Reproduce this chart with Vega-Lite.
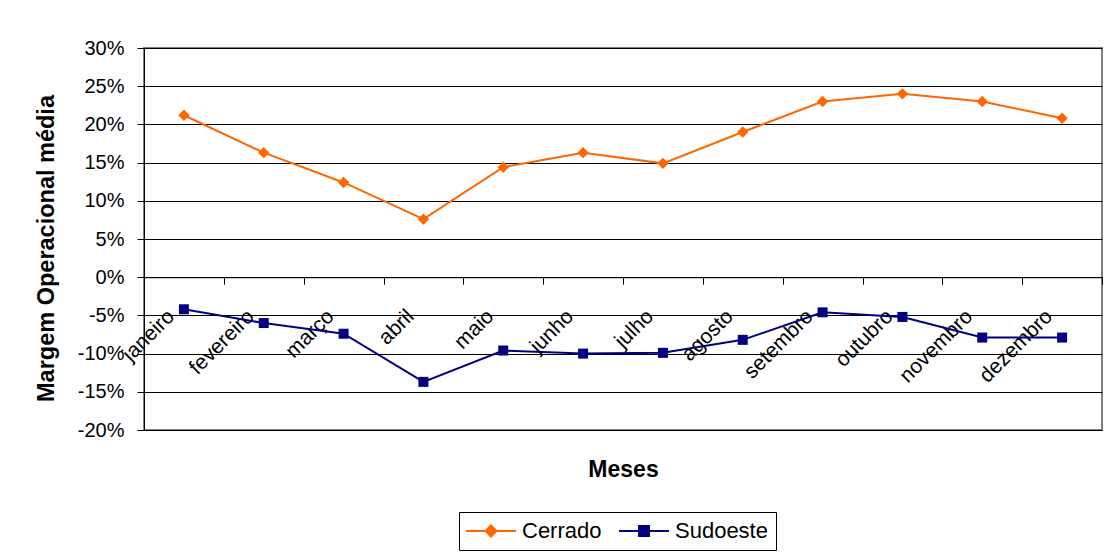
{
  "$schema": "https://vega.github.io/schema/vega-lite/v6.json",
  "width": 958,
  "height": 382,
  "autosize": "none",
  "padding": {"left": 144, "top": 48, "right": 6, "bottom": 125},
  "background": "white",
  "config": {
    "font": "Liberation Sans",
    "view": {"stroke": "#808080", "strokeWidth": 2}
  },
  "data": {
    "values": [
      {"mes": "janeiro", "serie": "Cerrado", "valor": 0.212},
      {"mes": "fevereiro", "serie": "Cerrado", "valor": 0.163},
      {"mes": "março", "serie": "Cerrado", "valor": 0.124},
      {"mes": "abril", "serie": "Cerrado", "valor": 0.076},
      {"mes": "maio", "serie": "Cerrado", "valor": 0.144},
      {"mes": "junho", "serie": "Cerrado", "valor": 0.163},
      {"mes": "julho", "serie": "Cerrado", "valor": 0.149},
      {"mes": "agosto", "serie": "Cerrado", "valor": 0.190},
      {"mes": "setembro", "serie": "Cerrado", "valor": 0.230},
      {"mes": "outubro", "serie": "Cerrado", "valor": 0.240},
      {"mes": "novembro", "serie": "Cerrado", "valor": 0.230},
      {"mes": "dezembro", "serie": "Cerrado", "valor": 0.208},
      {"mes": "janeiro", "serie": "Sudoeste", "valor": -0.042},
      {"mes": "fevereiro", "serie": "Sudoeste", "valor": -0.060},
      {"mes": "março", "serie": "Sudoeste", "valor": -0.074},
      {"mes": "abril", "serie": "Sudoeste", "valor": -0.137},
      {"mes": "maio", "serie": "Sudoeste", "valor": -0.096},
      {"mes": "junho", "serie": "Sudoeste", "valor": -0.100},
      {"mes": "julho", "serie": "Sudoeste", "valor": -0.099},
      {"mes": "agosto", "serie": "Sudoeste", "valor": -0.082},
      {"mes": "setembro", "serie": "Sudoeste", "valor": -0.046},
      {"mes": "outubro", "serie": "Sudoeste", "valor": -0.052},
      {"mes": "novembro", "serie": "Sudoeste", "valor": -0.079},
      {"mes": "dezembro", "serie": "Sudoeste", "valor": -0.079}
    ]
  },
  "encoding": {
    "x": {
      "field": "mes",
      "type": "ordinal",
      "sort": ["janeiro", "fevereiro", "março", "abril", "maio", "junho", "julho", "agosto", "setembro", "outubro", "novembro", "dezembro"],
      "bandPosition": 0.5,
      "scale": {"type": "band", "paddingInner": 0, "paddingOuter": 0},
      "axis": {
        "title": "Meses",
        "labelAngle": -45,
        "labelAlign": "right",
        "labelBaseline": "top",
        "labelFontSize": 21,
        "labelColor": "black",
        "tickBand": "extent",
        "tickSize": 7,
        "tickColor": "black",
        "labelPadding": 21,
        "labelOffset": -21,
        "domainColor": "black",
        "offset": -152.8,
        "grid": false,
        "labelOverlap": false,
        "labelBound": false,
        "labelFlush": false,
        "titleFontSize": 23,
        "titleFontWeight": "bold",
        "titleColor": "black",
        "titleY": 192,
        "titleBaseline": "middle"
      }
    },
    "y": {
      "field": "valor",
      "type": "quantitative",
      "scale": {"domain": [-0.2, 0.3], "nice": false, "zero": false},
      "axis": {
        "title": "Margem Operacional média",
        "values": [-0.2, -0.15, -0.1, -0.05, 0, 0.05, 0.1, 0.15, 0.2, 0.25, 0.3],
        "labelExpr": "round(datum.value*100) + '%'",
        "labelFontSize": 20,
        "labelColor": "black",
        "tickColor": "black",
        "tickSize": 7,
        "labelPadding": 13,
        "domainColor": "black",
        "gridColor": "black",
        "gridWidth": 1,
        "titleFontSize": 23.5,
        "titleFontWeight": "bold",
        "titleColor": "black",
        "titleX": -98,
        "titleY": 200,
        "titleBaseline": "middle",
        "titleAlign": "center"
      }
    }
  },
  "layer": [
    {
      "mark": {"type": "line", "strokeWidth": 2},
      "encoding": {
        "color": {
          "field": "serie",
          "type": "nominal",
          "scale": {"domain": ["Cerrado", "Sudoeste"], "range": ["#FF6600", "#000080"]},
          "legend": {
            "title": null,
            "orient": "none",
            "legendX": 315,
            "legendY": 464,
            "direction": "horizontal",
            "strokeColor": "black",
            "fillColor": "white",
            "padding": 8,
            "symbolSize": 400,
            "symbolStrokeWidth": 2,
            "labelOffset": 33,
            "columnPadding": 13,
            "labelFontSize": 22,
            "labelColor": "black"
          }
        }
      }
    },
    {
      "transform": [{"filter": "datum.serie === 'Cerrado'"}],
      "mark": {"type": "point", "shape": "diamond", "filled": true, "opacity": 1, "size": 130, "color": "#FF6600"}
    },
    {
      "transform": [{"filter": "datum.serie === 'Sudoeste'"}],
      "mark": {"type": "point", "shape": "square", "filled": true, "opacity": 1, "size": 100, "color": "#000080"}
    },
    {
      "transform": [{"filter": "false"}],
      "mark": {"type": "point", "filled": true, "opacity": 1},
      "encoding": {
        "color": {"field": "serie", "type": "nominal"},
        "shape": {
          "field": "serie",
          "type": "nominal",
          "scale": {"domain": ["Cerrado", "Sudoeste"], "range": ["M-1.2,0H3.8M1.3,-0.55L1.85,0L1.3,0.55L0.75,0Z", "M-1.2,0H3.8M0.8,-0.5H1.8V0.5H0.8Z"]},
          "legend": null
        }
      }
    }
  ]
}
